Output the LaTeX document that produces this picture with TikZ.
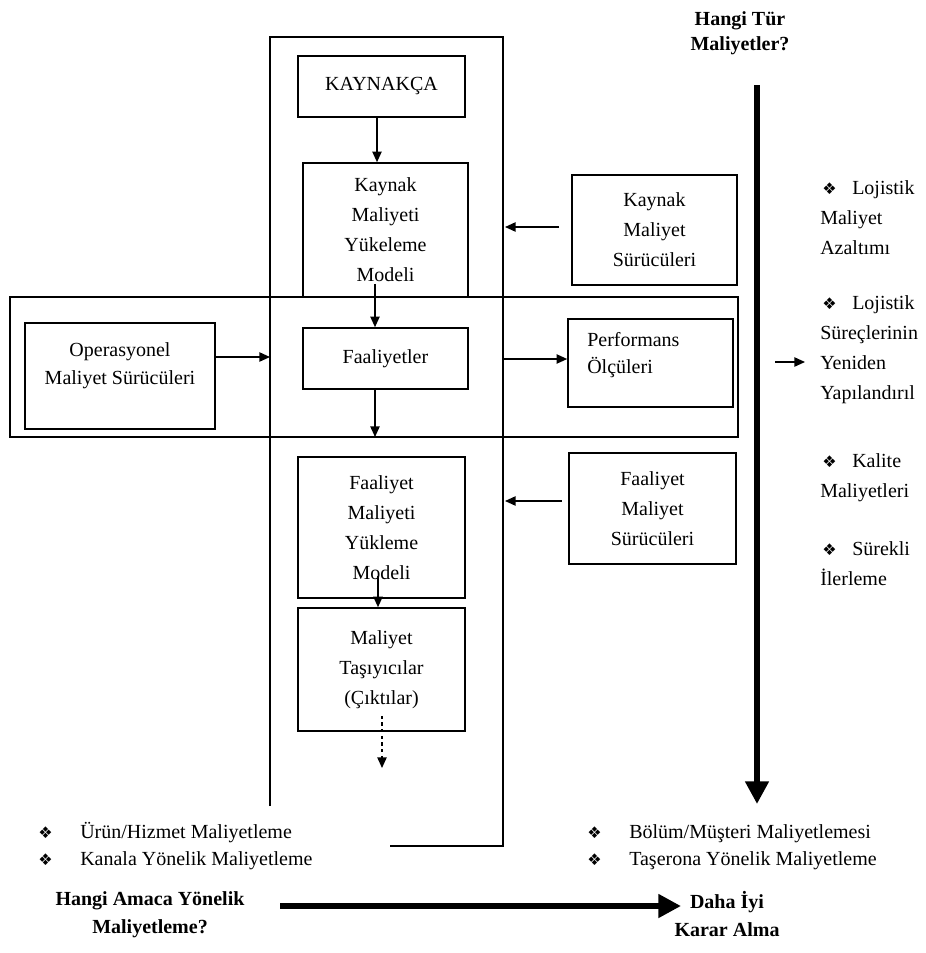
\documentclass[tikz,border=0pt]{standalone}
\usepackage{fontspec}
\setmainfont{Liberation Serif}
\newfontfamily\symfont{DejaVu Sans}
\usetikzlibrary{arrows.meta,calc}
% diamond bullet used in the lists
\newcommand{\dmb}{{\symfont\fontsize{12}{12}\selectfont ❖}}

\begin{document}
\begin{tikzpicture}[x=0.75pt,y=-0.75pt,
  every node/.style={font=\fontsize{15}{22.5}\selectfont},
  box/.style={draw, line width=1.2pt, inner sep=0pt, align=center},
  frame/.style={draw, line width=1.2pt},
  arr/.style={line width=1.1pt, -{Triangle[length=8pt,width=7pt]}},
  bigarr/.style={line width=4.2pt, -{Triangle[length=17pt,width=17pt]}},
  txt/.style={inner sep=0pt, align=left},
  btxt/.style={inner sep=0pt, align=center, font=\fontsize{15}{18.75}\selectfont\bfseries},
]
\useasboundingbox (0,0) rectangle (925,953);

% outer frames
\draw[frame] (270,806) -- (270,37) -- (503,37) -- (503,846) -- (390,846);
\draw[frame] (10,297) rectangle (738,437);

% central column
\node[box, minimum width=125.25pt, minimum height=45.75pt] (kaynakca) at (381.5,86.5) {KAYNAKÇA};
\node[box, minimum width=123.75pt, minimum height=100.5pt] (kmodel) at (385.5,230) {Kaynak\\Maliyeti\\Yükeleme\\Modeli};
\node[box, minimum width=123.75pt, minimum height=45.75pt] (faal) at (385.5,358.5) {Faaliyetler};
\node[box, minimum width=125.25pt, minimum height=105.75pt] (fmodel) at (381.5,527.5) {Faaliyet\\Maliyeti\\Yükleme\\Modeli};
\node[box, minimum width=125.25pt, minimum height=92.25pt] (mt) at (381.5,669.5) {Maliyet\\Taşıyıcılar\\(Çıktılar)};

% side boxes
\node[box, minimum width=142.5pt, minimum height=79.5pt] (opr) at (120,376) {};
\node[txt, align=center, font=\fontsize{15}{21}\selectfont] (oprtext) at (120,366) {Operasyonel\\Maliyet Sürücüleri};
\node[box, minimum width=123.75pt, minimum height=66pt] (perf) at (650.5,363) {};
\node[txt, anchor=base west, font=\fontsize{15}{20.25}\selectfont] (perftext) at (587,373) {Performans\\Ölçüleri};
\node[box, minimum width=123.75pt, minimum height=82.5pt] (kms) at (654.5,230) {Kaynak\\Maliyet\\Sürücüleri};
\node[box, minimum width=125.25pt, minimum height=83.25pt] (fms) at (652.5,508.5) {Faaliyet\\Maliyet\\Sürücüleri};

% connectors in the column
\coordinate (cK) at (377,0);
\coordinate (colA) at (375,0);
\coordinate (colB) at (378,0);
\coordinate (hb) at (0,437);
\coordinate (mtout) at (382,768);
\draw[arr] (kaynakca.south -| cK) -- (kmodel.north -| cK);
\draw[arr] ($(kmodel.south -| colA)+(0,-14)$) -- (faal.north -| colA);
\draw[arr] (faal.south -| colA) -- (hb -| colA);
\draw[arr] ($(fmodel.south -| colB)+(0,-23)$) -- (mt.north -| colB);
\draw[arr, dash pattern=on 2.5pt off 2.5pt] ($(mt.south -| mtout)+(0,-16)$) -- (mtout);

% connectors to and from the frames
\coordinate (fl) at (270,357);
\coordinate (fr1) at (503,359);
\coordinate (fr2) at (505,227);
\coordinate (fr3) at (505,501);
\draw[arr] (opr.east |- fl) -- (fl);
\draw[arr] (fr1) -- (fr1 -| perf.west);
\draw[arr, shorten <=9pt] (kms.west |- fr2) -- (fr2);
\draw[arr, shorten <=5pt] (fms.west |- fr3) -- (fr3);

% thick axes
\coordinate (vtop) at (757,85);
\coordinate (vbot) at (757,804);
\coordinate (hl) at (280,906);
\coordinate (hr) at (681,906);
\draw[bigarr] (vtop) -- (vbot);
\draw[bigarr] (hl) -- (hr);

% small arrow towards the list
\coordinate (ra1) at (775,362);
\coordinate (ra2) at (805,362);
\draw[arr] (ra1) -- (ra2);

% headings
\node[btxt] (q1) at (740,33) {Hangi Tür\\Maliyetler?};
\node[btxt, font=\fontsize{15}{21}\selectfont\bfseries] (q2) at (150,915) {Hangi Amaca Yönelik\\Maliyetleme?};
\node[btxt, font=\fontsize{15}{21}\selectfont\bfseries] (q3) at (727,914) {Daha İyi\\Karar Alma};

% right-hand list (each node placed by the baseline of its last line)
\node[txt, anchor=base west] (r1) at (820,254) {\makebox[24pt][l]{\hspace{1.5pt}\dmb}Lojistik\\Maliyet\\Azaltımı};
\node[txt, anchor=base west] (r2) at (820,399) {\makebox[24pt][l]{\hspace{1.5pt}\dmb}Lojistik\\Süreçlerinin\\Yeniden\\Yapılandırıl};
\node[txt, anchor=base west] (r3) at (820,497) {\makebox[24pt][l]{\hspace{1.5pt}\dmb}Kalite\\Maliyetleri};
\node[txt, anchor=base west] (r4) at (820,585) {\makebox[24pt][l]{\hspace{1.5pt}\dmb}Sürekli\\İlerleme};

% bottom lists
\node[txt, anchor=base west, font=\fontsize{15}{20.25}\selectfont] (b1) at (38,865) {\makebox[31.5pt][l]{\dmb}Ürün/Hizmet Maliyetleme\\\makebox[31.5pt][l]{\dmb}Kanala Yönelik Maliyetleme};
\node[txt, anchor=base west, font=\fontsize{15}{20.25}\selectfont] (b2) at (587,865) {\makebox[31.5pt][l]{\dmb}Bölüm/Müşteri Maliyetlemesi\\\makebox[31.5pt][l]{\dmb}Taşerona Yönelik Maliyetleme};
\end{tikzpicture}
\end{document}
